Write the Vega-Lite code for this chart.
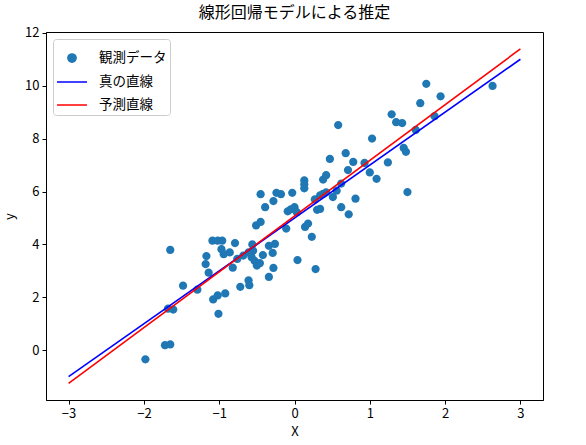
{
  "$schema": "https://vega.github.io/schema/vega-lite/v6.json",
  "width": 497,
  "height": 368,
  "padding": {"left": 3, "top": 4, "right": 5, "bottom": 3},
  "title": {"text": "線形回帰モデルによる推定", "fontSize": 16, "font": "Noto Sans CJK JP", "fontWeight": "normal", "color": "black", "offset": 6},
  "config": {
    "font": "Noto Sans CJK JP",
    "view": {"stroke": "black", "strokeWidth": 1},
    "axis": {"grid": false, "domainColor": "black", "tickColor": "black", "labelColor": "black", "titleColor": "black", "labelFontSize": 13, "titleFontSize": 13, "titleFontWeight": "normal", "tickSize": 4, "labelPadding": 3, "format": "~g"}
  },
  "datasets": {
    "obs": [
      {"x": -1.98, "y": -0.34, "series": "観測データ"}, {"x": -1.72, "y": 0.19, "series": "観測データ"}, {"x": -1.65, "y": 0.22, "series": "観測データ"},
      {"x": -1.65, "y": 3.79, "series": "観測データ"}, {"x": -1.68, "y": 1.57, "series": "観測データ"}, {"x": -1.61, "y": 1.54, "series": "観測データ"},
      {"x": -1.48, "y": 2.44, "series": "観測データ"}, {"x": -1.29, "y": 2.29, "series": "観測データ"}, {"x": -1.17, "y": 3.56, "series": "観測データ"},
      {"x": -1.18, "y": 3.26, "series": "観測データ"}, {"x": -1.14, "y": 2.93, "series": "観測データ"}, {"x": -1.09, "y": 4.14, "series": "観測データ"},
      {"x": -1.02, "y": 4.14, "series": "観測データ"}, {"x": -0.96, "y": 4.14, "series": "観測データ"}, {"x": -0.97, "y": 3.82, "series": "観測データ"},
      {"x": -0.94, "y": 3.63, "series": "観測データ"}, {"x": -0.86, "y": 3.70, "series": "観測データ"}, {"x": -0.82, "y": 3.12, "series": "観測データ"},
      {"x": -0.79, "y": 4.05, "series": "観測データ"}, {"x": -1.08, "y": 1.92, "series": "観測データ"}, {"x": -1.02, "y": 2.07, "series": "観測データ"},
      {"x": -0.92, "y": 2.15, "series": "観測データ"}, {"x": -1.01, "y": 1.38, "series": "観測データ"}, {"x": -0.72, "y": 2.40, "series": "観測データ"},
      {"x": -0.61, "y": 2.64, "series": "観測データ"}, {"x": -0.60, "y": 2.46, "series": "観測データ"}, {"x": -0.68, "y": 3.58, "series": "観測データ"},
      {"x": -0.61, "y": 3.70, "series": "観測データ"}, {"x": -0.55, "y": 3.76, "series": "観測データ"}, {"x": -0.57, "y": 3.52, "series": "観測データ"},
      {"x": -0.53, "y": 3.38, "series": "観測データ"}, {"x": -0.50, "y": 3.20, "series": "観測データ"}, {"x": -0.46, "y": 3.29, "series": "観測データ"},
      {"x": -0.42, "y": 3.60, "series": "観測データ"}, {"x": -0.56, "y": 4.00, "series": "観測データ"}, {"x": -0.76, "y": 3.45, "series": "観測データ"},
      {"x": -0.34, "y": 3.95, "series": "観測データ"}, {"x": -0.29, "y": 3.68, "series": "観測データ"}, {"x": -0.26, "y": 4.02, "series": "観測データ"},
      {"x": -0.34, "y": 2.77, "series": "観測データ"}, {"x": -0.28, "y": 3.11, "series": "観測データ"}, {"x": -0.51, "y": 4.72, "series": "観測データ"},
      {"x": -0.45, "y": 4.85, "series": "観測データ"}, {"x": -0.45, "y": 5.90, "series": "観測データ"}, {"x": -0.39, "y": 5.41, "series": "観測データ"},
      {"x": -0.28, "y": 5.64, "series": "観測データ"}, {"x": -0.24, "y": 5.95, "series": "観測データ"}, {"x": -0.18, "y": 5.90, "series": "観測データ"},
      {"x": -0.11, "y": 4.60, "series": "観測データ"}, {"x": -0.09, "y": 5.25, "series": "観測データ"}, {"x": -0.05, "y": 5.33, "series": "観測データ"},
      {"x": 0.00, "y": 5.41, "series": "観測データ"}, {"x": 0.03, "y": 5.22, "series": "観測データ"}, {"x": -0.03, "y": 5.95, "series": "観測データ"},
      {"x": 0.04, "y": 3.41, "series": "観測データ"}, {"x": 0.13, "y": 6.42, "series": "観測データ"}, {"x": 0.13, "y": 6.27, "series": "観測データ"},
      {"x": 0.13, "y": 6.12, "series": "観測データ"}, {"x": 0.14, "y": 4.66, "series": "観測データ"}, {"x": 0.18, "y": 4.79, "series": "観測データ"},
      {"x": 0.23, "y": 4.29, "series": "観測データ"}, {"x": 0.28, "y": 3.07, "series": "観測データ"}, {"x": 0.30, "y": 5.31, "series": "観測データ"},
      {"x": 0.34, "y": 5.34, "series": "観測データ"}, {"x": 0.27, "y": 5.70, "series": "観測データ"}, {"x": 0.34, "y": 5.85, "series": "観測データ"},
      {"x": 0.38, "y": 5.91, "series": "観測データ"}, {"x": 0.42, "y": 5.97, "series": "観測データ"}, {"x": 0.38, "y": 6.45, "series": "観測データ"},
      {"x": 0.42, "y": 6.62, "series": "観測データ"}, {"x": 0.47, "y": 7.23, "series": "観測データ"}, {"x": 0.51, "y": 5.79, "series": "観測データ"},
      {"x": 0.56, "y": 6.03, "series": "観測データ"}, {"x": 0.62, "y": 6.30, "series": "観測データ"}, {"x": 0.58, "y": 8.51, "series": "観測データ"},
      {"x": 0.62, "y": 5.41, "series": "観測データ"}, {"x": 0.72, "y": 5.14, "series": "観測データ"}, {"x": 0.68, "y": 7.45, "series": "観測データ"},
      {"x": 0.71, "y": 6.81, "series": "観測データ"}, {"x": 0.78, "y": 7.12, "series": "観測データ"}, {"x": 0.81, "y": 5.73, "series": "観測データ"},
      {"x": 0.93, "y": 7.08, "series": "観測データ"}, {"x": 1.00, "y": 6.72, "series": "観測データ"}, {"x": 1.09, "y": 6.48, "series": "観測データ"},
      {"x": 1.03, "y": 8.00, "series": "観測データ"}, {"x": 1.24, "y": 7.10, "series": "観測データ"}, {"x": 1.29, "y": 8.92, "series": "観測データ"},
      {"x": 1.35, "y": 8.62, "series": "観測データ"}, {"x": 1.43, "y": 8.59, "series": "観測データ"}, {"x": 1.45, "y": 7.65, "series": "観測データ"},
      {"x": 1.48, "y": 7.50, "series": "観測データ"}, {"x": 1.50, "y": 5.98, "series": "観測データ"}, {"x": 1.61, "y": 8.33, "series": "観測データ"},
      {"x": 1.67, "y": 9.34, "series": "観測データ"}, {"x": 1.75, "y": 10.07, "series": "観測データ"}, {"x": 1.86, "y": 8.85, "series": "観測データ"},
      {"x": 1.94, "y": 9.60, "series": "観測データ"}, {"x": 2.63, "y": 9.99, "series": "観測データ"}
    ],
    "lines": [
      {"x": -3, "y": -1.0, "series": "真の直線"}, {"x": 3, "y": 11.0, "series": "真の直線"},
      {"x": -3, "y": -1.25, "series": "予測直線"}, {"x": 3, "y": 11.39, "series": "予測直線"}
    ]
  },
  "layer": [
    {
      "data": {"name": "obs"},
      "mark": {"type": "point", "filled": true, "size": 900, "opacity": 1},
      "encoding": {
        "x": {"field": "x", "type": "quantitative", "scale": {"domain": [-3.3, 3.3], "nice": false, "zero": false}, "axis": {"values": [-3, -2, -1, 0, 1, 2, 3], "title": "X", "titlePadding": 5}},
        "y": {"field": "y", "type": "quantitative", "scale": {"domain": [-1.88, 12.03], "nice": false, "zero": false}, "axis": {"values": [0, 2, 4, 6, 8, 10, 12], "title": "y", "titlePadding": 8}},
        "color": {
          "field": "series", "type": "nominal", "title": null,
          "scale": {"domain": ["観測データ", "真の直線", "予測直線"], "range": ["#1f77b4", "blue", "red"]},
          "legend": {
            "orient": "top-left", "offset": 7, "padding": 3, "fillColor": "white", "strokeColor": "#cccccc", "cornerRadius": 3,
            "labelFontSize": 13.5, "labelOffset": 11, "labelColor": "black", "rowPadding": -10, "symbolSize": 900,
            "encode": {"symbols": {"update": {
              "stroke": {"scale": "color", "field": "value"},
              "fill": {"scale": "color", "field": "value"},
              "strokeWidth": {"signal": "datum.value === '観測データ' ? 0 : 1.6"},
              "opacity": {"value": 1}
            }}}
          }
        },
        "shape": {
          "field": "series", "type": "nominal", "title": null,
          "scale": {"domain": ["観測データ", "真の直線", "予測直線"], "range": ["M0.275,0A0.275,0.275,0,1,1,-0.275,0A0.275,0.275,0,1,1,0.275,0Z", "stroke", "stroke"]}
        }
      }
    },
    {
      "data": {"name": "lines"},
      "mark": {"type": "line", "strokeWidth": 1.6},
      "encoding": {
        "x": {"field": "x", "type": "quantitative"},
        "y": {"field": "y", "type": "quantitative"},
        "color": {"field": "series", "type": "nominal", "title": null}
      }
    }
  ]
}
